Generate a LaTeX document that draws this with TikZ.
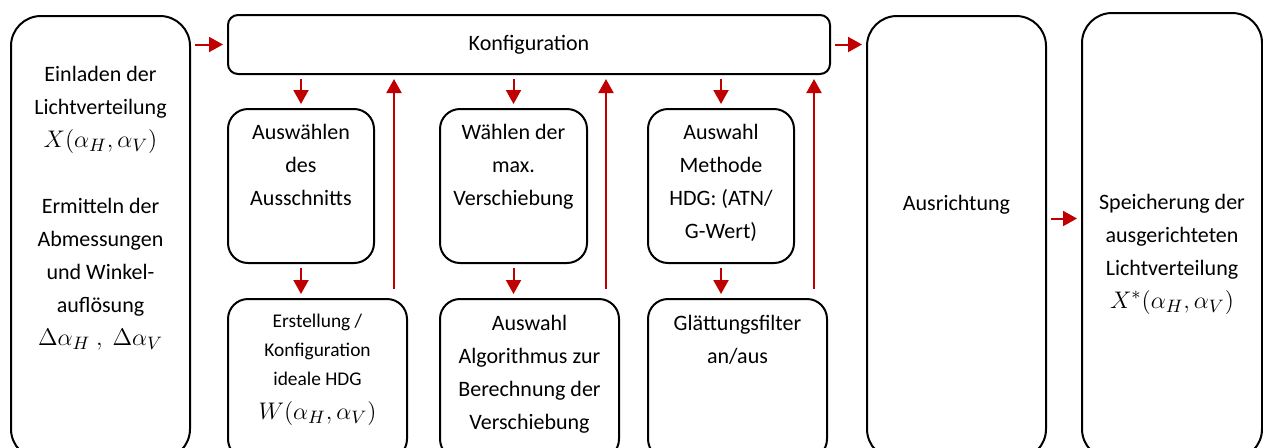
\documentclass[tikz,border=0pt]{standalone}
\usepackage{amsmath}
\usepackage[no-math]{fontspec}
\setmainfont{Carlito}
\usetikzlibrary{arrows.meta,positioning,calc}
\definecolor{flowred}{RGB}{192,0,0}
\newcommand{\bigmath}[1]{{\fontsize{13}{16.5}\selectfont$#1$}}

\begin{document}
\begin{tikzpicture}[
        x=0.5pt, y=-0.5pt,
        every node/.style={font=\fontsize{11}{16.5}\selectfont},
        box/.style={draw, line width=1pt, rounded corners=10pt, anchor=north west, inner sep=0pt},
        tallbox/.style={box, rounded corners=15pt},
        txt/.style={align=center, anchor=north, inner sep=0pt},
        flow/.style={-{Triangle[length=7pt,width=7.5pt]}, line width=1pt, flowred, shorten <=2pt, shorten >=2pt}
    ]
        \useasboundingbox (0,0) rectangle (1263,447);
        \clip (0,0) rectangle (1263,447);

        \node[tallbox, minimum width=89.5pt, minimum height=221.5pt] (load) at (10,15) {};
        \node[box, rounded corners=5pt, minimum width=301pt, minimum height=29.5pt] (konfig) at (227,14) {};
        \node[box, minimum width=73pt, minimum height=77pt] (sel) at (227,108) {};
        \node[box, minimum width=89.5pt, minimum height=80pt] (ideal) at (227,298) {};
        \node[box, minimum width=73.5pt, minimum height=77pt] (shift) at (439,108) {};
        \node[box, minimum width=89.5pt, minimum height=80pt] (algo) at (439,298) {};
        \node[box, minimum width=73pt, minimum height=77pt] (method) at (647,108) {};
        \node[box, minimum width=89.5pt, minimum height=80pt] (smooth) at (647,298) {};
        \node[tallbox, minimum width=89.5pt, minimum height=221.5pt] (align) at (866,15) {};
        \node[tallbox, minimum width=90pt, minimum height=223pt] (save) at (1081,12) {};

        \node[txt] (loadtxt) at ([yshift=-25.5pt]load.north) {
            Einladen der\\ Lichtverteilung\\ \bigmath{X(\alpha_H,\alpha_V)}\\[16.5pt]
            Ermitteln der\\ Abmessungen\\ und Winkel-\\ auflösung\\
            \bigmath{\Delta\alpha_H\ ,\ \Delta\alpha_V}
        };
        \node[txt, anchor=center] (konfigtxt) at (konfig.center) {Konfiguration};
        \node[txt] (seltxt) at ([yshift=-8pt]sel.north) {Auswählen\\ des\\ Ausschnitts};
        \node[txt, font=\fontsize{9.7}{14.5}\selectfont] (idealtxt) at ([yshift=-8pt]ideal.north) {
            Erstellung /\\ Konfiguration\\ ideale HDG\\[2.5pt] \bigmath{W(\alpha_H,\alpha_V)}
        };
        \node[txt] (shifttxt) at ([yshift=-8pt]shift.north) {Wählen der\\ max.\\ Verschiebung};
        \node[txt] (algotxt) at ([yshift=-8.5pt]algo.north) {
            Auswahl\\ Algorithmus zur\\ Berechnung der\\ Verschiebung
        };
        \node[txt] (methodtxt) at ([yshift=-8pt]method.north) {Auswahl\\ Methode\\ HDG: (ATN/\\ G-Wert)};
        \node[txt] (smoothtxt) at ([yshift=-8.5pt]smooth.north) {Glättungsfilter\\ an/aus};
        \node[txt, anchor=center] (aligntxt) at ([yshift=16.5pt]align.center) {Ausrichtung};
        \node[txt] (savetxt) at ([yshift=-91pt]save.north) {
            Speicherung der\\ ausgerichteten\\ Lichtverteilung\\ \bigmath{X^*(\alpha_H,\alpha_V)}
        };

        \draw[flow] (load.east |- konfig.west) -- (konfig.west);
        \draw[flow] (konfig.east) -- (align.west |- konfig.east);
        \draw[flow] ([yshift=9.5pt]align.east) -- ([yshift=9.5pt]align.east -| save.west);

        \draw[flow] (sel.north |- konfig.south) -- (sel.north);
        \draw[flow] (sel.south) -- (sel.south |- ideal.north);
        \draw[flow] (shift.north |- konfig.south) -- (shift.north);
        \draw[flow] (shift.south) -- (shift.south |- algo.north);
        \draw[flow] (method.north |- konfig.south) -- (method.north);
        \draw[flow] (method.south) -- (method.south |- smooth.north);

        \coordinate (backsel) at ([xshift=-7pt]ideal.north east);
        \coordinate (backshift) at ([xshift=-7pt]algo.north east);
        \coordinate (backmethod) at ([xshift=-7pt]smooth.north east);
        \draw[flow, shorten <=4.5pt] (backsel) -- (backsel |- konfig.south);
        \draw[flow, shorten <=4.5pt] (backshift) -- (backshift |- konfig.south);
        \draw[flow, shorten <=4.5pt] (backmethod) -- (backmethod |- konfig.south);
    \end{tikzpicture}
\end{document}
